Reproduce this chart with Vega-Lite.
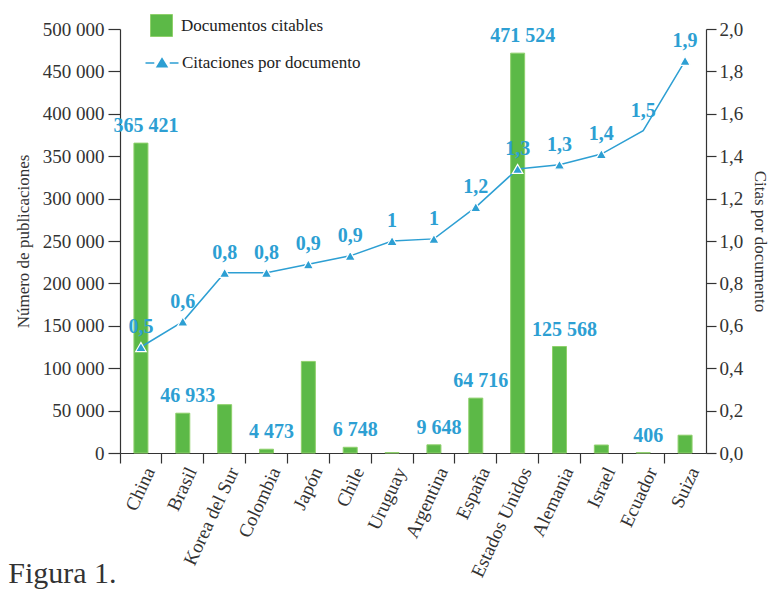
{
  "$schema": "https://vega.github.io/schema/vega-lite/v6.json",
  "width": 586,
  "height": 424,
  "autosize": {"type": "none"},
  "padding": {"left": 120, "top": 29, "right": 63, "bottom": 138},
  "background": "white",
  "config": {
    "locale": {"number": {"decimal": ",", "thousands": " ", "grouping": [3], "currency": ["", " €"]}},
    "font": "Liberation Serif",
    "view": {"stroke": null},
    "axis": {"domainColor": "#333", "tickColor": "#333", "labelColor": "#333", "titleColor": "#333", "labelFont": "Liberation Serif", "titleFont": "Liberation Serif", "titleFontWeight": "normal", "grid": false, "domainWidth": 1.2, "tickWidth": 1.2}
  },
  "title": {"text": "Figura 1.", "orient": "bottom", "anchor": "start", "frame": "bounds", "font": "Liberation Serif", "fontSize": 30, "fontWeight": "normal", "color": "#333", "dy": -25, "dx": -6},
  "data": {"values": [
    {"pais": "China", "docs": 365421, "etiqueta": "365 421", "citas": 0.50, "etiq_citas": "0,5", "marcador": true},
    {"pais": "Brasil", "docs": 46933, "etiqueta": "46 933", "citas": 0.62, "etiq_citas": "0,6", "marcador": true},
    {"pais": "Korea del Sur", "docs": 57000, "etiqueta": "", "citas": 0.85, "etiq_citas": "0,8", "marcador": true},
    {"pais": "Colombia", "docs": 4473, "etiqueta": "4 473", "citas": 0.85, "etiq_citas": "0,8", "marcador": true},
    {"pais": "Japón", "docs": 108000, "etiqueta": "", "citas": 0.89, "etiq_citas": "0,9", "marcador": true},
    {"pais": "Chile", "docs": 6748, "etiqueta": "6 748", "citas": 0.93, "etiq_citas": "0,9", "marcador": true},
    {"pais": "Uruguay", "docs": 500, "etiqueta": "", "citas": 1.00, "etiq_citas": "1", "marcador": true},
    {"pais": "Argentina", "docs": 9648, "etiqueta": "9 648", "citas": 1.01, "etiq_citas": "1", "marcador": true},
    {"pais": "España", "docs": 64716, "etiqueta": "64 716", "citas": 1.16, "etiq_citas": "1,2", "marcador": true},
    {"pais": "Estados Unidos", "docs": 471524, "etiqueta": "471 524", "citas": 1.34, "etiq_citas": "1,3", "marcador": true},
    {"pais": "Alemania", "docs": 125568, "etiqueta": "125 568", "citas": 1.36, "etiq_citas": "1,3", "marcador": true},
    {"pais": "Israel", "docs": 9400, "etiqueta": "", "citas": 1.41, "etiq_citas": "1,4", "marcador": true},
    {"pais": "Ecuador", "docs": 406, "etiqueta": "406", "citas": 1.52, "etiq_citas": "1,5", "marcador": false},
    {"pais": "Suiza", "docs": 21000, "etiqueta": "", "citas": 1.85, "etiq_citas": "1,9", "marcador": true}
  ]},
  "encoding": {
    "x": {"field": "pais", "type": "nominal", "sort": null,
      "scale": {"paddingInner": 0, "paddingOuter": 0},
      "axis": {"title": null, "labelAngle": -65, "labelAlign": "right", "labelBaseline": "middle", "bandPosition": 0, "labelOffset": 9, "labelFontSize": 19, "tickSize": 10, "labelPadding": 5}}
  },
  "layer": [
    {
      "encoding": {
        "y": {"field": "docs", "type": "quantitative", "scale": {"domain": [0, 500000], "nice": false},
          "axis": {"orient": "left", "title": "Número de publicaciones", "titleFontSize": 17, "titlePadding": 10, "values": [0, 50000, 100000, 150000, 200000, 250000, 300000, 350000, 400000, 450000, 500000], "format": ",d", "labelFontSize": 19, "tickSize": 12, "labelPadding": 4}}
      },
      "layer": [
        {"mark": {"type": "bar", "size": 14, "stroke": "#8fd06c", "strokeWidth": 1},
          "encoding": {
            "fill": {"datum": "Documentos citables", "type": "nominal",
              "scale": {"domain": ["Documentos citables"], "range": ["#5cb947"]},
              "legend": {"orient": "none", "legendX": 30, "legendY": -15, "title": null, "labelFont": "Liberation Serif", "labelFontSize": 17, "labelColor": "#222", "labelLimit": 0, "symbolSize": 484, "symbolType": "square", "labelOffset": 8, "symbolStrokeColor": "#8fd06c", "symbolStrokeWidth": 1}}
          }},
        {"transform": [{"filter": "datum.etiqueta !== ''"}],
          "mark": {"type": "text", "baseline": "bottom", "dy": -7, "dx": 5, "fontSize": 20, "fontWeight": "bold", "color": "#2d9fd3", "font": "Liberation Serif"},
          "encoding": {"text": {"field": "etiqueta", "type": "nominal"}}}
      ]
    },
    {
      "encoding": {
        "y": {"field": "citas", "type": "quantitative", "scale": {"domain": [0, 2], "nice": false},
          "axis": {"orient": "right", "title": "Citas por documento", "titleFontSize": 17, "titlePadding": 8, "values": [0, 0.2, 0.4, 0.6, 0.8, 1.0, 1.2, 1.4, 1.6, 1.8, 2.0], "format": ".1f", "labelFontSize": 19, "tickSize": 10, "labelPadding": 3}}
      },
      "layer": [
        {"mark": {"type": "line", "strokeWidth": 1.5},
          "encoding": {"stroke": {"datum": "Citaciones por documento", "type": "nominal",
            "scale": {"domain": ["Citaciones por documento"], "range": ["#2d9fd3"]},
            "legend": {"orient": "none", "legendX": 30, "legendY": 22, "title": null, "labelFont": "Liberation Serif", "labelFontSize": 17, "labelColor": "#222", "labelLimit": 0, "symbolSize": 484, "labelOffset": 8,
              "symbolType": "M-1.5,0H-0.7M0.7,0H1.5M-0.45,0.35L0,-0.4L0.45,0.35Z",
              "symbolFillColor": "#2d9fd3", "symbolStrokeWidth": 1.5,
              "encode": {"symbols": {"update": {"fill": {"value": "#2d9fd3"}, "stroke": {"value": "#2d9fd3"}, "opacity": {"value": 1}}}}}}}},
        {"transform": [{"filter": "datum.marcador"}],
          "mark": {"type": "point", "shape": "triangle-up", "filled": true, "size": 110, "fill": "#2d9fd3", "stroke": "white", "strokeWidth": 1.2, "opacity": 1}},
        {"mark": {"type": "text", "baseline": "bottom", "dy": -10, "fontSize": 20, "fontWeight": "bold", "color": "#2d9fd3", "font": "Liberation Serif"},
          "encoding": {"text": {"field": "etiq_citas", "type": "nominal"}}}
      ]
    }
  ],
  "resolve": {"scale": {"y": "independent"}}
}
